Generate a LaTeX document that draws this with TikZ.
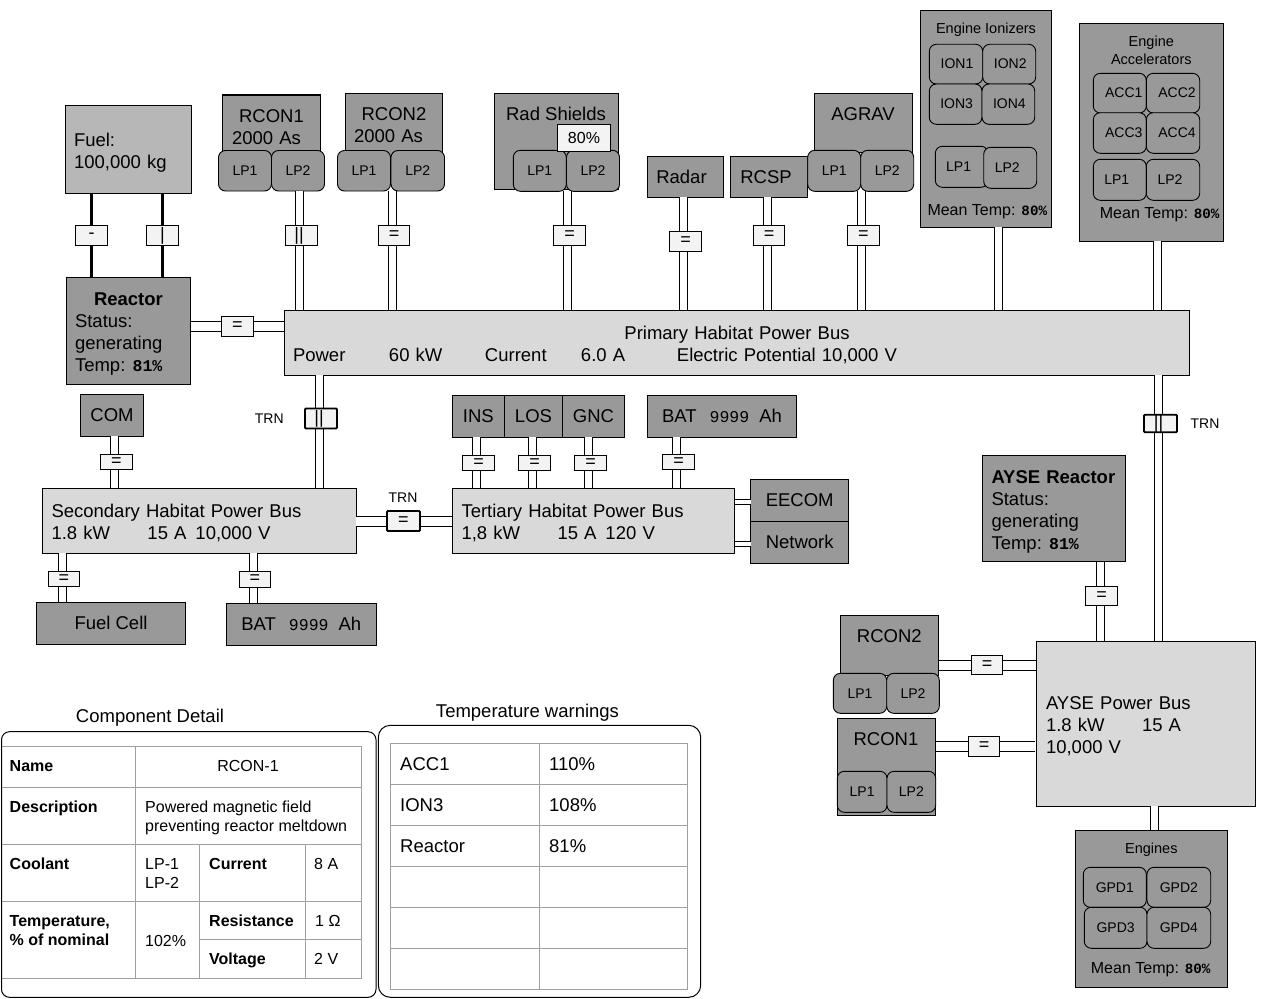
\documentclass[tikz,border=0pt]{standalone}
\usepackage{fontspec}
\setmainfont{Liberation Sans}
\newfontfamily\numfont{Liberation Mono}
\usetikzlibrary{positioning}
\definecolor{unitgray}{HTML}{999999}
\definecolor{fuelgray}{HTML}{B7B7B7}
\definecolor{busgray}{HTML}{D9D9D9}
\definecolor{switchgray}{HTML}{F3F3F3}
\definecolor{gridgray}{HTML}{A0A0A0}
\newcommand{\tempval}[1]{{\numfont\bfseries\fontsize{16.5pt}{22pt}\selectfont #1}}
\newcommand{\meanval}[1]{{\numfont\bfseries\fontsize{14.2pt}{18pt}\selectfont #1}}
\newcommand{\capval}[1]{{\numfont\fontsize{16.5pt}{22pt}\selectfont #1}}
\pgfdeclarelayer{front}
\pgfsetlayers{main,front}
\begin{document}
\begin{tikzpicture}
    [x=1pt, y=-1pt,
    block/.style = {draw=black, fill=unitgray, line width=1.2pt, anchor=north west, outer sep=0pt, inner sep=0pt,
      align=left, font=\fontsize{18.5pt}{22pt}\selectfont},
    bus/.style = {block, fill=busgray},
    text drop/.style = {execute at begin node={\rule{0pt}{#1}}},
    loop unit/.style = {draw=black, fill=unitgray, line width=.9pt, rounded corners=7pt, anchor=north west,
      outer sep=0pt, inner sep=0pt, font=\fontsize{14pt}{16pt}\selectfont},
    title/.style = {anchor=base, inner sep=0pt, align=center, font=\fontsize{18.5pt}{22pt}\selectfont},
    small title/.style = {title, font=\fontsize{14.5pt}{18pt}\selectfont},
    mean temp/.style = {anchor=base west, inner sep=0pt, font=\fontsize{16pt}{18pt}\selectfont},
    switch/.style = {draw=black, fill=switchgray, line width=1pt, minimum width=32pt, minimum height=20pt,
      outer sep=0pt, inner sep=0pt, font=\fontsize{18pt}{20pt}\selectfont},
    trn/.style = {switch, line width=1.8pt, rounded corners=1pt},
    trn label/.style = {inner sep=0pt, font=\fontsize{14pt}{16pt}\selectfont},
    feed/.style = {draw=black, double=white, line width=1pt, double distance=7pt},
    wide feed/.style = {feed, double distance=9pt},
    slim feed/.style = {feed, double distance=4pt},
    fuel line/.style = {draw=black, line width=3.5pt},
    panel/.style = {draw=black, line width=1pt, rounded corners=8pt},
    cell line/.style = {draw=gridgray, line width=1pt},
    cell/.style = {anchor=base west, inner sep=0pt, align=left, font=\fontsize{16pt}{19pt}\selectfont},
    head cell/.style = {cell, font=\fontsize{16pt}{19pt}\selectfont\bfseries},
    warn cell/.style = {cell, font=\fontsize{18.5pt}{22pt}\selectfont}]

    \useasboundingbox (0,0) rectangle (1276,998);

    % fuel and reactor
    \node [block, fill=fuelgray, minimum width=126.4pt, minimum height=88pt, text width=109pt, text drop=19.5pt] (Fuel) at (65.3,105.3) {Fuel:\\100,000 kg};
    \node [block, minimum width=124pt, minimum height=106.8pt, text width=107pt, text drop=19.5pt] (Reactor) at (66.5,277.5)
      {\hspace*{19pt}\textbf{Reactor}\\Status:\\generating\\Temp: \kern-2pt\tempval{81\%}};

    % coil units on the primary bus
    \node [block, minimum width=98pt, minimum height=64pt, text width=79pt] (RCONa) at (222.5,95) {\makebox[79pt]{RCON1}\\2000 As};
    \node [loop unit, minimum width=53pt, minimum height=40.5pt] (RCONaA) at (218.5,150.5) {LP1};
    \node [loop unit, minimum width=53pt, minimum height=40.5pt] (RCONaB) at (271.5,150.5) {LP2};
    \node [block, minimum width=97pt, minimum height=63pt, text width=80pt] (RCONb) at (345.5,93.5) {\makebox[80pt]{RCON2}\\2000 As};
    \node [loop unit, minimum width=53pt, minimum height=40.5pt] (RCONbA) at (337.5,150.5) {LP1};
    \node [loop unit, minimum width=53.5pt, minimum height=40.5pt] (RCONbB) at (391,150.5) {LP2};

    \node [block, minimum width=124pt, minimum height=96.4pt] (Shields) at (494.3,93.3) {};
    \node [title] (ShieldsTitle) at (556,120) {Rad Shields};
    \node [loop unit, minimum width=53pt, minimum height=41pt] (ShieldsA) at (513.3,150.3) {LP1};
    \node [loop unit, minimum width=53pt, minimum height=41pt] (ShieldsB) at (566.5,150.3) {LP2};
    \node [block, fill=switchgray, minimum width=53.4pt, minimum height=27pt, font=\fontsize{16pt}{18pt}\selectfont] (ShieldsLevel) at (557.3,124.3) {80\%};

    \node [block, minimum width=76.4pt, minimum height=41pt] (Radar) at (647.3,156.3) {\kern-8pt Radar};
    \node [block, minimum width=77.4pt, minimum height=41pt] (RCSP) at (730.3,156.3) {\kern-6pt RCSP};

    \node [block, minimum width=98.4pt, minimum height=59pt] (AGRAV) at (814.3,93.3) {};
    \node [title] (AGRAVTitle) at (863,120) {AGRAV};
    \node [loop unit, minimum width=53pt, minimum height=41pt] (AGRAVA) at (807.7,150.3) {LP1};
    \node [loop unit, minimum width=53pt, minimum height=41pt] (AGRAVB) at (860.7,150.3) {LP2};

    % engine ionizers
    \node [block, minimum width=131.4pt, minimum height=217pt] (Ionizers) at (920.3,10.3) {};
    \node [small title] (IonizersTitle) at (986,33.3) {Engine Ionizers};
    \node [loop unit, minimum width=53.4pt, minimum height=39.7pt] (IONa) at (929.3,44.3) {\kern2pt ION1};
    \node [loop unit, minimum width=53pt, minimum height=39.7pt] (IONb) at (982.7,44.3) {\kern2pt ION2};
    \node [loop unit, minimum width=52.7pt, minimum height=40.3pt] (IONc) at (929.3,84) {\kern2pt ION3};
    \node [loop unit, minimum width=52.7pt, minimum height=40.3pt] (IONd) at (982,84) {\kern2pt ION4};
    \node [loop unit, minimum width=52.7pt, minimum height=41pt] (IonizersA) at (935.3,146.3) {\kern-6pt LP1};
    \node [loop unit, minimum width=53pt, minimum height=41pt] (IonizersB) at (983.7,147.3) {\kern-6pt LP2};
    \node [mean temp] (IonizersTemp) at (927.3,215) {Mean Temp: \meanval{80\%}};

    % engine accelerators
    \node [block, minimum width=144.4pt, minimum height=218pt] (Accels) at (1079.3,23.3) {};
    \node [small title] (AccelsTitle) at (1151.3,65) {Engine\\Accelerators};
    \node [loop unit, minimum width=53pt, minimum height=39.7pt] (ACCa) at (1093.3,73.3) {\kern8pt ACC1};
    \node [loop unit, minimum width=53.4pt, minimum height=39.7pt] (ACCb) at (1146.3,73.3) {\kern8pt ACC2};
    \node [loop unit, minimum width=53pt, minimum height=40.6pt] (ACCc) at (1093.3,112.7) {\kern8pt ACC3};
    \node [loop unit, minimum width=53.4pt, minimum height=40.6pt] (ACCd) at (1146.3,112.7) {\kern8pt ACC4};
    \node [loop unit, minimum width=53pt, minimum height=41pt] (AccelsA) at (1093.3,159.3) {\kern-6pt LP1};
    \node [loop unit, minimum width=53.4pt, minimum height=41pt] (AccelsB) at (1146.3,159.3) {\kern-6pt LP2};
    \node [mean temp] (AccelsTemp) at (1099.7,218) {Mean Temp: \meanval{80\%}};

    % buses
    \node [bus, minimum width=905.4pt, minimum height=65pt, text width=888pt, text drop=17.5pt] (Primary) at (284.3,310.3)
      {\makebox[888pt]{Primary Habitat Power Bus}\\\makebox[96pt][l]{Power}\makebox[96pt][l]{60 kW}\makebox[96pt][l]{Current}\makebox[96pt][l]{6.0 A}Electric Potential 10,000 V};
    \node [bus, minimum width=314pt, minimum height=65pt, text width=295.6pt, text drop=17.5pt] (Secondary) at (42.3,488.3)
      {Secondary Habitat Power Bus\\\makebox[96pt][l]{1.8 kW}\makebox[48pt][l]{15 A}10,000 V};
    \node [bus, minimum width=282.4pt, minimum height=65pt, text width=264pt, text drop=17.5pt] (Tertiary) at (452.3,488.3)
      {Tertiary Habitat Power Bus\\\makebox[96pt][l]{1,8 kW}\makebox[48pt][l]{15 A}120 V};
    \node [bus, minimum width=219.4pt, minimum height=165pt, text width=200pt, text drop=17.5pt] (AYSE) at (1036.3,641.3)
      {AYSE Power Bus\\\makebox[96pt][l]{1.8 kW}15 A\\10,000 V};

    % units on the secondary and tertiary buses
    \node [block, minimum width=63.4pt, minimum height=42pt] (COM) at (80.3,394.3) {COM};
    \node [block, minimum width=149.4pt, minimum height=42pt] (FuelCell) at (36.3,602.3) {Fuel Cell};
    \node [block, minimum width=150pt, minimum height=42pt] (BATa) at (226.3,603.3) {BAT\hspace{13pt}\capval{9999}\hspace{10pt}Ah};
    \node [block, minimum width=52pt, minimum height=42pt] (INS) at (452.3,395.3) {INS};
    \node [block, minimum width=58.4pt, minimum height=42pt] (LOS) at (504.3,395.3) {LOS};
    \node [block, minimum width=61.6pt, minimum height=42pt] (GNC) at (562.7,395.3) {GNC};
    \node [block, minimum width=149.4pt, minimum height=42pt] (BATb) at (647.3,395.3) {BAT\hspace{13pt}\capval{9999}\hspace{10pt}Ah};
    \node [block, minimum width=98pt, minimum height=42pt] (EECOM) at (750.7,479.3) {EECOM};
    \node [block, minimum width=98pt, minimum height=42pt] (Network) at (750.7,521.3) {Network};

    % AYSE side
    \node [block, minimum width=143.4pt, minimum height=106.4pt, text width=125pt, text drop=19.5pt] (AYSEReactor) at (982.3,455.3)
      {\textbf{AYSE Reactor}\\Status:\\generating\\Temp: \kern-2pt\tempval{81\%}};
    \node [block, minimum width=98.4pt, minimum height=60pt] (RCONc) at (840.3,615.7) {};
    \node [title] (RCONcTitle) at (889.3,642.7) {RCON2};
    \node [loop unit, minimum width=53.4pt, minimum height=40pt] (RCONcA) at (833.3,673.3) {LP1};
    \node [loop unit, minimum width=52.6pt, minimum height=40pt] (RCONcB) at (886.7,673.3) {LP2};
    \node [block, minimum width=98.4pt, minimum height=97pt] (RCONd) at (837.3,718.3) {};
    \node [title] (RCONdTitle) at (886,745) {RCON1};
    \node [loop unit, minimum width=49.7pt, minimum height=41pt] (RCONdA) at (837.3,771.3) {LP1};
    \node [loop unit, minimum width=48.7pt, minimum height=41pt] (RCONdB) at (887,771.3) {LP2};
    \node [block, minimum width=152.4pt, minimum height=157pt] (Engines) at (1075.3,830.3) {};
    \node [small title] (EnginesTitle) at (1151.3,853.3) {Engines};
    \node [loop unit, minimum width=63pt, minimum height=40pt] (GPDa) at (1083.3,867.3) {GPD1};
    \node [loop unit, minimum width=63.7pt, minimum height=40pt] (GPDb) at (1147,867.3) {GPD2};
    \node [loop unit, minimum width=62.7pt, minimum height=41pt] (GPDc) at (1084.3,907.3) {GPD3};
    \node [loop unit, minimum width=63.7pt, minimum height=41pt] (GPDd) at (1147,907.3) {GPD4};
    \node [mean temp] (EnginesTemp) at (1090.7,973.3) {Mean Temp: \meanval{80\%}};

    % switches sit over the feeds
    \begin{pgfonlayer}{front}
      \node [switch] (swFuelA) at (91.5,235.5) {-};
      \node [switch] (swFuelB) at (162.5,235.5) {|};
      \node [switch] (swReactor) at (237.5,326.5) {=};
      \node [switch] (swRCONa) at (301.5,235.5) {\kern-5pt ||};
      \node [switch, minimum width=31pt] (swRCONb) at (394,235.5) {=};
      \node [switch] (swShields) at (569.5,235.5) {=};
      \node [switch] (swRadar) at (685.5,241) {=};
      \node [switch, minimum width=31pt] (swRCSP) at (769,235.5) {=};
      \node [switch] (swAGRAV) at (863.3,235.5) {=};
      \node [trn] (swTRNa) at (321,418.5) {\kern-4pt ||};
      \node [trn label] (TRNa) at (269.3,419) {TRN};
      \node [trn, minimum width=33pt] (swTRNb) at (403.5,521) {=};
      \node [trn label] (TRNb) at (403,498) {TRN};
      \node [trn, minimum width=33pt, minimum height=17.5pt] (swTRNc) at (1160.5,423.5) {\kern-4pt ||};
      \node [trn label] (TRNc) at (1205,423.5) {TRN};
      \node [switch, minimum height=15.5pt] (swCOM) at (116.5,462) {=};
      \node [switch, minimum width=31pt, minimum height=15.5pt] (swFuelCell) at (64,579) {=};
      \node [switch, minimum width=31pt, minimum height=16.5pt] (swBATa) at (255,579.5) {=};
      \node [switch, minimum height=15.5pt] (swINS) at (478.5,463) {=};
      \node [switch, minimum height=15.5pt] (swLOS) at (534.5,463) {=};
      \node [switch, minimum height=15.5pt] (swGNC) at (590.5,463) {=};
      \node [switch, minimum height=15.5pt] (swBATb) at (678.5,462) {=};
      \node [switch, minimum height=19.5pt] (swAYSE) at (1101.5,596) {=};
      \node [switch, minimum width=31pt, minimum height=19pt] (swRCONc) at (987,665) {=};
      \node [switch, minimum width=31pt] (swRCONd) at (984,746) {=};
    \end{pgfonlayer}

    % fuel lines
    \draw [fuel line] (Fuel.south -| swFuelA) -- (Reactor.north -| swFuelA);
    \draw [fuel line] (Fuel.south -| swFuelB) -- (Reactor.north -| swFuelB);

    % feeds into the primary bus
    \draw [wide feed] (Reactor.east |- swReactor) -- (Primary.west |- swReactor);
    \draw [feed] ([xshift=-2pt]RCONaB.south -| swRCONa) -- ([xshift=-2pt]Primary.north -| swRCONa);
    \draw [feed] ([xshift=-2pt]RCONbB.south -| swRCONb) -- ([xshift=-2pt]Primary.north -| swRCONb);
    \draw [feed] ([xshift=-2pt]ShieldsB.south -| swShields) -- ([xshift=-2pt]Primary.north -| swShields);
    \draw [feed] ([xshift=-2pt]Radar.south -| swRadar) -- ([xshift=-2pt]Primary.north -| swRadar);
    \draw [feed] ([xshift=-2pt]RCSP.south -| swRCSP) -- ([xshift=-2pt]Primary.north -| swRCSP);
    \draw [feed] ([xshift=-2pt]AGRAVB.south -| swAGRAV) -- ([xshift=-2pt]Primary.north -| swAGRAV);
    \draw [feed] ([xshift=12.3pt]Ionizers.south) -- ([xshift=12.3pt]Ionizers.south |- Primary.north);
    \draw [feed] ([xshift=5.5pt]Accels.south) -- ([xshift=5.5pt]Accels.south |- Primary.north);

    % secondary bus
    \draw [feed] ([xshift=-2pt]Primary.south -| swTRNa) -- ([xshift=-2pt]Secondary.north -| swTRNa);
    \draw [feed] ([xshift=-2pt]COM.south -| swCOM) -- ([xshift=-2pt]Secondary.north -| swCOM);
    \draw [feed] ([xshift=-2pt]Secondary.south -| swFuelCell) -- ([xshift=-2pt]FuelCell.north -| swFuelCell);
    \draw [feed] ([xshift=-2pt]Secondary.south -| swBATa) -- ([xshift=-2pt]BATa.north -| swBATa);
    \draw [wide feed] (Secondary.east |- swTRNb) -- (Tertiary.west |- swTRNb);

    % tertiary bus
    \draw [feed] ([xshift=-2pt]INS.south -| swINS) -- ([xshift=-2pt]Tertiary.north -| swINS);
    \draw [feed] ([xshift=-2pt]LOS.south -| swLOS) -- ([xshift=-2pt]Tertiary.north -| swLOS);
    \draw [feed] ([xshift=-2pt]GNC.south -| swGNC) -- ([xshift=-2pt]Tertiary.north -| swGNC);
    \draw [feed] ([xshift=-2pt]BATb.south -| swBATb) -- ([xshift=-2pt]Tertiary.north -| swBATb);
    \draw [slim feed] ([yshift=-1.5pt]EECOM.west) -- ([yshift=-1.5pt]Tertiary.east |- EECOM.west);
    \draw [slim feed] ([yshift=-1.5pt]Network.west) -- ([yshift=-1.5pt]Tertiary.east |- Network.west);

    % AYSE bus
    \draw [feed] ([xshift=-2pt]Primary.south -| swTRNc) -- ([xshift=-2pt]AYSE.north -| swTRNc);
    \draw [feed] ([xshift=-1.5pt]AYSEReactor.south -| swAYSE) -- ([xshift=-1.5pt]AYSE.north -| swAYSE);
    \draw [wide feed] (RCONc.east |- swRCONc) -- (AYSE.west |- swRCONc);
    \draw [wide feed] (RCONd.east |- swRCONd) -- ([xshift=-1pt]AYSE.west |- swRCONd);
    \draw [feed] ([xshift=8.5pt]AYSE.south) -- ([xshift=8.5pt]AYSE.south |- Engines.north);

    % component detail
    \node [title] (DetailTitle) at (150,722) {Component Detail};
    \draw [cell line] (2,746.3) -- (361.3,746.3) (2,787.3) -- (361.3,787.3) (2,844.3) -- (361.3,844.3)
      (2,901.3) -- (361.3,901.3) (199.3,939.3) -- (361.3,939.3) (2,978.7) -- (361.3,978.7);
    \draw [cell line] (135.7,746.3) -- (135.7,978.7) (199.3,844.3) -- (199.3,978.7) (305.3,844.3) -- (305.3,978.7)
      (361.3,746.3) -- (361.3,978.7);
    \draw [panel] (1.5,731.7) rectangle (376,997.3);
    \node [head cell] (cName) at (9.5,771.5) {Name};
    \node [cell, anchor=base] (cNameVal) at (248,771.5) {RCON-1};
    \node [head cell] (cDesc) at (9.5,812) {Description};
    \node [cell] (cDescVal) at (145,831.5) {Powered magnetic field\\preventing reactor meltdown};
    \node [head cell] (cCool) at (9.5,869) {Coolant};
    \node [cell] (cCoolVal) at (145,888.5) {LP-1\\LP-2};
    \node [head cell] (cCurr) at (209,869) {Current};
    \node [cell] (cCurrVal) at (314,869) {8 A};
    \node [head cell] (cTemp) at (9.5,945.5) {Temperature,\\\% of nominal};
    \node [cell] (cTempVal) at (145,946) {102\%};
    \node [head cell] (cRes) at (209,926) {Resistance};
    \node [cell] (cResVal) at (315,926) {1 Ω};
    \node [head cell] (cVolt) at (209,964) {Voltage};
    \node [cell] (cVoltVal) at (314,964) {2 V};

    % temperature warnings
    \node [title] (WarnTitle) at (527.5,717) {Temperature warnings};
    \draw [cell line] (390.3,743.3) rectangle (687.7,989.3);
    \draw [cell line] (539.3,743.3) -- (539.3,989.3);
    \draw [cell line] (390.3,784.3) -- (687.7,784.3) (390.3,825.3) -- (687.7,825.3) (390.3,866.3) -- (687.7,866.3)
      (390.3,907.3) -- (687.7,907.3) (390.3,948.3) -- (687.7,948.3);
    \draw [panel, rounded corners=12pt] (378.3,725.3) rectangle (700.7,997.3);
    \node [warn cell] (wAcc) at (400,770) {ACC1};
    \node [warn cell] (wAccVal) at (549,770) {110\%};
    \node [warn cell] (wIon) at (400,811) {ION3};
    \node [warn cell] (wIonVal) at (549,811) {108\%};
    \node [warn cell] (wReac) at (400,852) {Reactor};
    \node [warn cell] (wReacVal) at (549,852) {81\%};
\end{tikzpicture}
\end{document}
